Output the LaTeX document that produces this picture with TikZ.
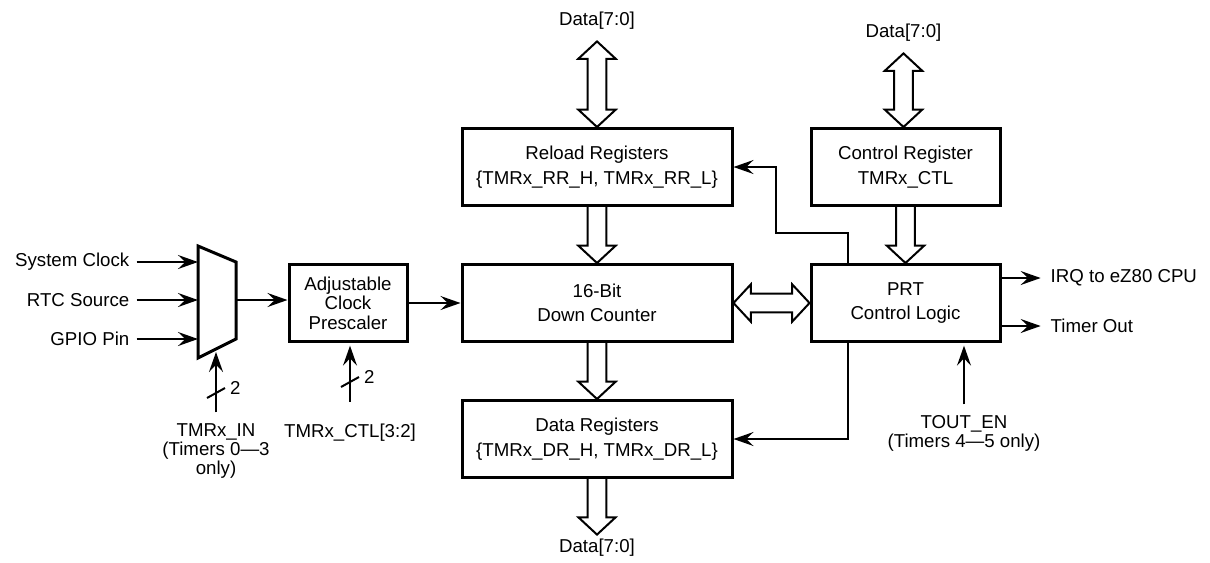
\documentclass[tikz,border=0pt]{standalone}
\usepackage{fontspec}
\setmainfont{Liberation Sans}
\usetikzlibrary{positioning,calc,arrows.meta}

% hollow bus arrows
\newcommand\busdown[2]{%
  \draw[bus] let \p1=(#1), \p2=(#2) in
    (\x1-7pt,\y1) -- (\x1-7pt,\y2+13pt) -- (\x1-14pt,\y2+13pt) -- (\x1,\y2)
    -- (\x1+14pt,\y2+13pt) -- (\x1+7pt,\y2+13pt) -- (\x1+7pt,\y1);}
\newcommand\busboth[2]{%
  \draw[bus] let \p1=(#1), \p2=(#2) in
    (\x1,\y1) -- (\x1+14pt,\y1-13pt) -- (\x1+7pt,\y1-13pt) -- (\x1+7pt,\y2+13pt)
    -- (\x1+14pt,\y2+13pt) -- (\x1,\y2) -- (\x1-14pt,\y2+13pt) -- (\x1-7pt,\y2+13pt)
    -- (\x1-7pt,\y1-13pt) -- (\x1-14pt,\y1-13pt) -- cycle;}
\newcommand\busside[2]{%
  \draw[bus] let \p1=(#1), \p2=(#2) in
    (\x1,\y1) -- (\x1+13pt,\y1+14pt) -- (\x1+13pt,\y1+7pt) -- (\x2-13pt,\y1+7pt)
    -- (\x2-13pt,\y1+14pt) -- (\x2,\y1) -- (\x2-13pt,\y1-14pt) -- (\x2-13pt,\y1-7pt)
    -- (\x1+13pt,\y1-7pt) -- (\x1+13pt,\y1-14pt) -- cycle;}
% bus width mark
\newcommand\widthmark[1]{%
  \draw[sigline] ($#1+(-9,5)$) -- ($#1+(9,-5)$)
    node[lbl, anchor=west, inner sep=3pt] {2};}

\begin{document}
\begin{tikzpicture}[x=0.75pt, y=-0.75pt,
    box/.style={draw, line width=2.25pt, align=center, inner sep=0pt,
      minimum height=57.75pt, font=\fontsize{14}{18.4}\selectfont},
    lbl/.style={align=center, font=\fontsize{14}{14.3}\selectfont},
    sig/.style={line width=1.5pt, -{Stealth[length=15pt, width=10.5pt, inset=5.5pt]}},
    sigline/.style={line width=1.5pt},
    bus/.style={line width=1.5pt, line join=miter, fill=white},
    muxbox/.style={line width=2.25pt, line join=miter}]
  \useasboundingbox (0,0) rectangle (1210,562);

  \node [box, minimum width=202.5pt] (reload) at (597,167)
    {Reload Registers\\\{TMRx\_RR\_H, TMRx\_RR\_L\}};
  \node [box, minimum width=202.5pt, below=42pt of reload] (counter)
    {16-Bit\\Down Counter};
  \node [box, minimum width=202.5pt, below=42pt of counter] (datareg)
    {Data Registers\\\{TMRx\_DR\_H, TMRx\_DR\_L\}};
  \node [box, minimum width=141.75pt, right=57pt of reload] (ctlreg)
    {Control Register\\TMRx\_CTL};
  \node [box, minimum width=141.75pt, below=42pt of ctlreg,
    font=\fontsize{14}{17.5}\selectfont] (prt)
    {PRT\\Control Logic};
  \node [box, minimum width=88.5pt, left=39pt of counter,
    font=\fontsize{14}{14.5}\selectfont] (presc)
    {Adjustable\\Clock\\Prescaler};

  % multiplexer
  \draw [muxbox] (198,246) coordinate (muxnw) -- (236,262)
    -- (236,339) -- (198,358) -- cycle;
  \coordinate (muxout) at (236,300);
  \coordinate (muxsel) at (216,352);

  \node [lbl, anchor=east] (sysclk) at (134,262) {System Clock};
  \node [lbl, anchor=east] (rtc) at (134,300) {RTC Source};
  \node [lbl, anchor=east] (gpio) at (134,339) {GPIO Pin};
  \draw [sig, shorten <=2pt] (sysclk.east) -- (sysclk.east -| muxnw);
  \draw [sig, shorten <=2pt] (rtc.east) -- (rtc.east -| muxnw);
  \draw [sig, shorten <=2pt] (gpio.east) -- (gpio.east -| muxnw);
  \draw [sig] (muxout) -- (muxout -| presc.west);
  \draw [sig] (presc.east) -- (counter.west);

  \node [lbl, anchor=north] (tmrin) at (216,419)
    {TMRx\_IN\\(Timers 0—3\\only)};
  \node [lbl, anchor=north] (ctlsel) at (350,419) {TMRx\_CTL[3:2]};
  \draw [sig, shorten <=5pt] (tmrin.north) -- (muxsel);
  \draw [sig, shorten <=13pt, shorten >=2pt] (ctlsel.north) -- (ctlsel.north |- presc.south);
  \widthmark{(216,393)}
  \widthmark{(350,382)}

  % data buses
  \node [lbl] (rrdata) at (597,21) {Data[7:0]};
  \node [lbl] (ctldata) at (903.5,33) {Data[7:0]};
  \node [lbl] (drdata) at (597,548) {Data[7:0]};
  \busboth{$(rrdata.south)+(0,7)$}{reload.north}
  \busboth{$(ctldata.south)+(0,7)$}{ctlreg.north}
  \busdown{reload.south}{counter.north}
  \busdown{ctlreg.south}{prt.north}
  \busdown{counter.south}{datareg.north}
  \busdown{datareg.south}{drdata.north}
  \busside{counter.east}{prt.west}

  % control logic lines
  \draw [sig] ($(prt.north west)+(38,0)$) |- (776,233) |- (reload.east);
  \draw [sig] ($(prt.south west)+(38,0)$) |- (datareg.east);

  \node [lbl, anchor=west] (irq) at (1046,278) {IRQ to eZ80 CPU};
  \node [lbl, anchor=west] (tout) at (1046,326) {Timer Out};
  \draw [sig, shorten >=4pt] (irq.west -| prt.east) -- (irq.west);
  \draw [sig, shorten >=4pt] (tout.west -| prt.east) -- (tout.west);

  \node [lbl, anchor=north] (touten) at (964,411)
    {TOUT\_EN\\(Timers 4—5 only)};
  \draw [sig, shorten <=5pt, shorten >=2pt] (touten.north) -- (touten.north |- prt.south);
\end{tikzpicture}
\end{document}
